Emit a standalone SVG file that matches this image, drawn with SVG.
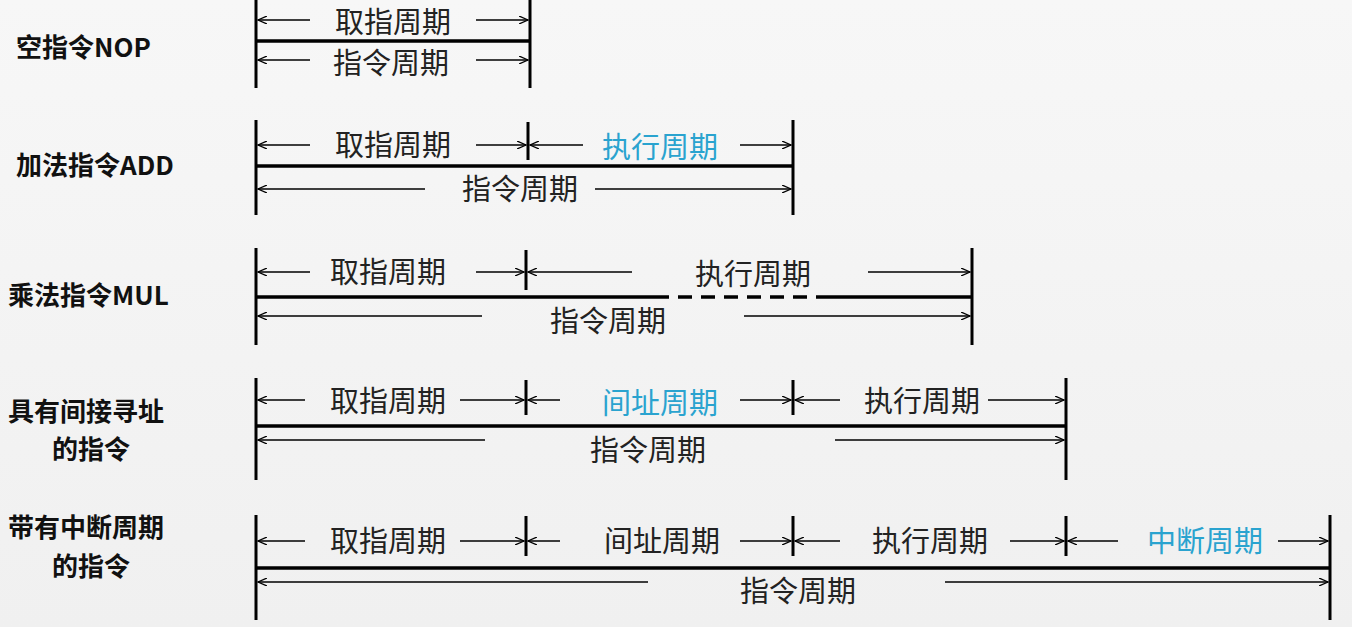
<svg xmlns="http://www.w3.org/2000/svg" width="1352" height="627" viewBox="0 0 1352 627">
<defs>
<linearGradient id="bg" x1="0" y1="0" x2="0" y2="1"><stop offset="0" stop-color="#f7f7f7"/><stop offset="1" stop-color="#f0f0f0"/></linearGradient>
<marker id="ah" markerWidth="10" markerHeight="8" refX="9" refY="4" orient="auto" markerUnits="userSpaceOnUse"><path d="M0,0 L9,4 L0,8" fill="none" stroke="#000" stroke-width="1.3"/></marker>
</defs>
<style>
.bar{stroke:#000;stroke-width:3;fill:none}
.thick{stroke:#000;stroke-width:3.5;fill:none}
.ar line{stroke:#000;stroke-width:1.5;marker-end:url(#ah)}
.t{font-family:"Noto Sans CJK SC","Liberation Serif",serif;font-size:29px;fill:#222;text-anchor:middle}
.b{fill:#2aa3cf}
.lab{font-family:"Noto Sans CJK SC","Liberation Sans",sans-serif;font-size:26px;font-weight:bold;fill:#111}
</style>
<rect width="1352" height="627" fill="url(#bg)"/>
<g id="labels">
<text class="lab" x="16" y="57">空指令NOP</text>
<text class="lab" x="16" y="175">加法指令ADD</text>
<text class="lab" x="8" y="305">乘法指令MUL</text>
<text class="lab" x="8" y="421">具有间接寻址</text>
<text class="lab" x="52" y="459">的指令</text>
<text class="lab" x="8" y="537">带有中断周期</text>
<text class="lab" x="52" y="576">的指令</text>
</g>
<g id="row-nop">
<text class="t" x="393" y="33">取指周期</text>
<text class="t" x="391" y="74">指令周期</text>
</g>
<g id="row-add">
<text class="t" x="393" y="156">取指周期</text>
<text class="t b" x="660" y="158">执行周期</text>
<text class="t" x="520" y="200">指令周期</text>
</g>
<g id="row-mul">
<text class="t" x="388" y="283">取指周期</text>
<text class="t" x="753" y="285">执行周期</text>
<text class="t" x="608" y="332">指令周期</text>
</g>
<g id="row-ind">
<text class="t" x="388" y="412">取指周期</text>
<text class="t b" x="660" y="414">间址周期</text>
<text class="t" x="922" y="412">执行周期</text>
<text class="t" x="648" y="461">指令周期</text>
</g>
<g id="row-int">
<text class="t" x="388" y="552">取指周期</text>
<text class="t" x="662" y="552">间址周期</text>
<text class="t" x="930" y="552">执行周期</text>
<text class="t b" x="1205" y="552">中断周期</text>
<text class="t" x="798" y="602">指令周期</text>
</g>
<g id="connectors">
<path class="bar" d="M256,0V88M530,0V88"/>
<path class="thick" d="M256,41H530"/>
<path class="bar" d="M256,120V215M793,120V215M528,122V160"/>
<path class="thick" d="M256,166H793"/>
<path class="bar" d="M256,248V345M972,248V345M526,250V290"/>
<path class="thick" d="M256,297H655M825,297H972"/>
<path class="thick" d="M655,297H825" stroke-dasharray="14,9"/>
<path class="bar" d="M256,378V480M1066,378V480M526,380V415M793,380V415"/>
<path class="thick" d="M256,426H1066"/>
<path class="bar" d="M256,515V620M1330,515V620M526,516V556M793,516V556M1066,516V556"/>
<path class="thick" d="M256,568H1330"/>
<g class="ar">
<line x1="310" y1="20" x2="258" y2="20"/><line x1="476" y1="20" x2="528" y2="20"/>
<line x1="310" y1="60" x2="258" y2="60"/><line x1="476" y1="60" x2="528" y2="60"/>
<line x1="310" y1="145" x2="258" y2="145"/><line x1="476" y1="145" x2="526" y2="145"/>
<line x1="583" y1="145" x2="530" y2="145"/><line x1="740" y1="145" x2="791" y2="145"/>
<line x1="425" y1="189" x2="258" y2="189"/><line x1="595" y1="189" x2="791" y2="189"/>
<line x1="310" y1="272" x2="258" y2="272"/><line x1="476" y1="272" x2="524" y2="272"/>
<line x1="632" y1="272" x2="528" y2="272"/><line x1="868" y1="272" x2="970" y2="272"/>
<line x1="482" y1="316" x2="258" y2="316"/><line x1="744" y1="316" x2="970" y2="316"/>
<line x1="305" y1="400" x2="258" y2="400"/><line x1="460" y1="400" x2="524" y2="400"/>
<line x1="560" y1="400" x2="528" y2="400"/><line x1="740" y1="400" x2="791" y2="400"/>
<line x1="840" y1="400" x2="795" y2="400"/><line x1="988" y1="400" x2="1064" y2="400"/>
<line x1="485" y1="440" x2="258" y2="440"/><line x1="835" y1="440" x2="1064" y2="440"/>
<line x1="305" y1="541" x2="258" y2="541"/><line x1="460" y1="541" x2="524" y2="541"/>
<line x1="560" y1="541" x2="528" y2="541"/><line x1="740" y1="541" x2="791" y2="541"/>
<line x1="840" y1="541" x2="795" y2="541"/><line x1="1010" y1="541" x2="1064" y2="541"/>
<line x1="1118" y1="541" x2="1068" y2="541"/><line x1="1278" y1="541" x2="1328" y2="541"/>
<line x1="648" y1="582" x2="258" y2="582"/><line x1="945" y1="582" x2="1328" y2="582"/>
</g>
</g>
</svg>
